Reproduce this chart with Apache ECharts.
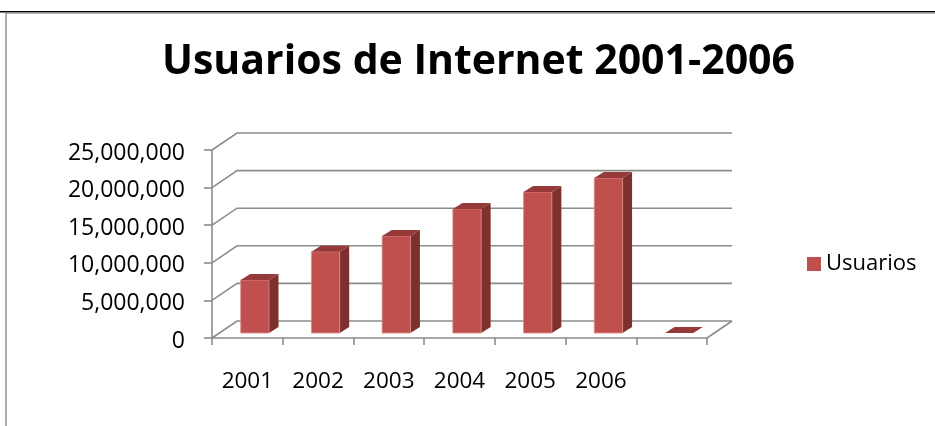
<!DOCTYPE html>
<html>
<head>
<meta charset="utf-8">
<script src="https://cdn.jsdelivr.net/npm/echarts@6/dist/echarts.min.js"></script>
<style>
  html, body { margin: 0; padding: 0; background: #ffffff; }
  #chart { width: 935px; height: 426px; }
</style>
</head>
<body>
<div id="chart"></div>
<script>
// Internet users per year (the last category is intentionally empty)
const years = ['2001', '2002', '2003', '2004', '2005', '2006', ''];
const usuarios = [7050000, 10800000, 12900000, 16500000, 18750000, 20600000, 0];
// Value-axis gridline levels
const yTicks = [0, 5000000, 10000000, 15000000, 20000000, 25000000];

// Pseudo-3D geometry (pixels)
const WALL_DX = 25, WALL_DY = -17;      // depth of floor / side wall
const BAR_FX = 7.5, BAR_FY = -5;        // bar front face offset into the depth
const BAR_DX = 9.5, BAR_DY = -6;        // bar depth
const BAR_W = 0.4;                      // bar width as share of a category band

const FONT = '"Open Sans", "Noto Sans", sans-serif';
const GRID_COLOR = '#8c8c8c';
const FRONT = '#C0504D', SIDE = '#7D302E', TOP = '#953A38';

const chart = echarts.init(document.getElementById('chart'), null, { renderer: 'canvas' });

function renderWall(params, api) {
  const cs = params.coordSys;
  const v = api.value(1);
  const y = api.coord([0, v])[1];
  const x0 = cs.x, x1 = cs.x + cs.width;
  const style = { stroke: GRID_COLOR, lineWidth: 1.6, fill: null };
  const children = [{
    type: 'polyline',
    shape: { points: [[x0, y], [x0 + WALL_DX, y + WALL_DY], [x1 + WALL_DX, y + WALL_DY]] },
    style: style
  }];
  if (v === 0) {
    children.push({
      type: 'line',
      shape: { x1: x1, y1: y, x2: x1 + WALL_DX, y2: y + WALL_DY },
      style: style
    });
  }
  return { type: 'group', children: children };
}

function renderBar(params, api) {
  const i = api.value(0), v = api.value(1);
  const base = api.coord([i, 0]);
  const top = api.coord([i, v]);
  const band = api.size([1, 0])[0];
  const w = band * BAR_W;
  const xl = base[0] - w / 2 + BAR_FX, xr = xl + w;
  const yb = base[1] + BAR_FY, yt = top[1] + BAR_FY;
  const children = [];
  if (yb - yt > 0.5) {
    children.push({
      type: 'polygon',
      shape: { points: [[xr, yb], [xr + BAR_DX, yb + BAR_DY], [xr + BAR_DX, yt + BAR_DY], [xr, yt]] },
      style: { fill: SIDE }
    });
    children.push({
      type: 'rect',
      shape: { x: xl, y: yt, width: w, height: yb - yt },
      style: { fill: FRONT, stroke: '#d98a88', lineWidth: 0.8 }
    });
  }
  children.push({
    type: 'polygon',
    shape: { points: [[xl, yt], [xl + BAR_DX, yt + BAR_DY], [xr + BAR_DX, yt + BAR_DY], [xr, yt]] },
    style: { fill: TOP }
  });
  return { type: 'group', children: children };
}

chart.setOption({
  animation: false,
  backgroundColor: '#ffffff',
  title: {
    text: 'Usuarios de Internet 2001-2006',
    left: 157,
    top: 37,
    textStyle: { fontFamily: FONT, fontSize: 41, fontWeight: 'bold', color: '#000000' }
  },
  legend: {
    data: ['Usuarios'],
    left: 802,
    top: 248,
    icon: 'rect',
    itemWidth: 14,
    itemHeight: 14,
    itemGap: 8,
    textStyle: { fontFamily: FONT, fontSize: 22, color: '#000000' }
  },
  grid: { left: 212, right: 228, top: 150, bottom: 88 },
  xAxis: {
    type: 'category',
    data: years,
    boundaryGap: true,
    axisLine: { show: true, lineStyle: { color: GRID_COLOR, width: 1.6 } },
    axisTick: { show: true, length: 7, lineStyle: { color: GRID_COLOR, width: 1.6 } },
    axisLabel: { margin: 32, fontFamily: FONT, fontSize: 22.5, color: '#000000' },
    splitLine: { show: false }
  },
  yAxis: {
    type: 'value',
    min: 0,
    max: 25000000,
    interval: 5000000,
    axisLine: { show: true, lineStyle: { color: GRID_COLOR, width: 1.6 } },
    axisTick: { show: true, length: 8, lineStyle: { color: GRID_COLOR, width: 1.6 } },
    axisLabel: {
      margin: 27,
      verticalAlign: 'top',
      lineHeight: 6,
      fontFamily: FONT,
      fontSize: 23,
      color: '#000000',
      formatter: function (v) { return v.toLocaleString('en-US'); }
    },
    splitLine: { show: false }
  },
  graphic: [
    { type: 'rect', shape: { x: 0, y: 11, width: 935, height: 1.5 }, style: { fill: '#000000' } },
    { type: 'line', shape: { x1: 6, y1: 13.2, x2: 935, y2: 13.2 }, style: { stroke: '#9a9a9a', lineWidth: 1.2 } },
    { type: 'line', shape: { x1: 6, y1: 12, x2: 6, y2: 426 }, style: { stroke: '#8a8a8a', lineWidth: 1.4 } }
  ],
  series: [
    {
      name: 'walls',
      type: 'custom',
      renderItem: renderWall,
      clip: false,
      silent: true,
      z: 1,
      encode: { x: 0, y: 1 },
      data: yTicks.map(function (v) { return [0, v]; })
    },
    {
      name: 'Usuarios',
      type: 'custom',
      renderItem: renderBar,
      clip: false,
      z: 3,
      itemStyle: { color: FRONT },
      encode: { x: 0, y: 1 },
      data: usuarios.map(function (v, i) { return [i, v]; })
    }
  ]
});
</script>
</body>
</html>
